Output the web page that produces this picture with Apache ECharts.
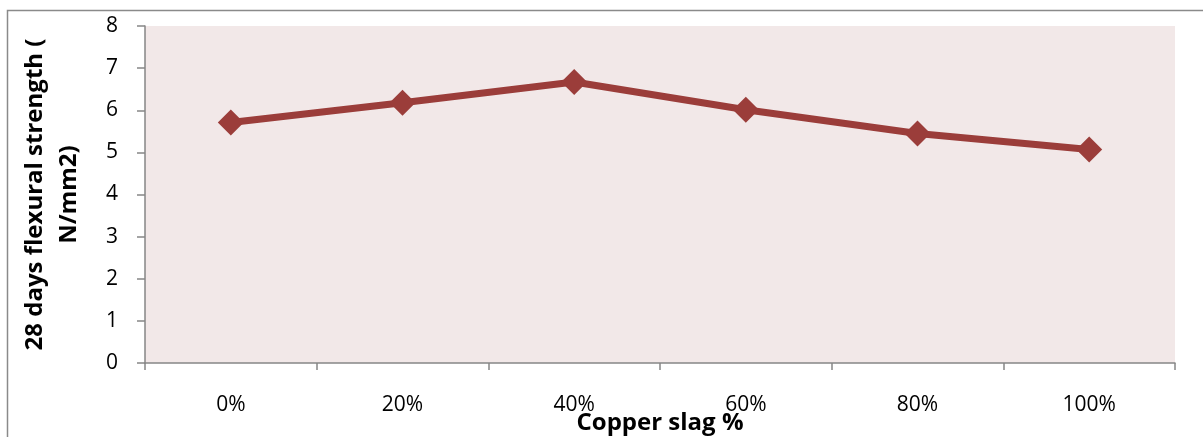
<!DOCTYPE html>
<html>
<head>
<meta charset="utf-8">
<script src="https://cdn.jsdelivr.net/npm/echarts@6/dist/echarts.min.js"></script>
<style>
  html, body { margin: 0; padding: 0; background: #fff; }
  #main { width: 1203px; height: 437px; }
</style>
</head>
<body>
<div id="main"></div>
<script>
// copper slag replacement levels
var slagLevels = ["0%", "20%", "40%", "60%", "80%", "100%"];
// 28 days flexural strength (N/mm2)
var flexural28 = [5.71, 6.18, 6.67, 6.01, 5.45, 5.07];

var chartDom = document.getElementById("main");
var myChart = echarts.init(chartDom);
var font = "'Open Sans', sans-serif";

var option = {
  animation: false,
  textStyle: { fontFamily: font },
  graphic: [
    {
      type: "rect",
      shape: { x: 7.5, y: 10.5, width: 1300, height: 500 },
      style: { fill: "none", stroke: "#8a8a8a", lineWidth: 1.5 },
      z: 0
    }
  ],
  grid: {
    left: 145,
    right: 28,
    top: 26,
    bottom: 74,
    outerBoundsMode: "none",
    containLabel: false,
    show: true,
    backgroundColor: "#f2e8e8",
    borderWidth: 0
  },
  xAxis: {
    type: "category",
    data: slagLevels,
    boundaryGap: true,
    name: "Copper slag %",
    nameLocation: "middle",
    nameGap: 48,
    nameMoveOverlap: false,
    nameTextStyle: { fontSize: 24, fontWeight: "bold", color: "#000", fontFamily: font },
    axisLine: { lineStyle: { color: "#868686", width: 1.5 } },
    axisTick: { show: true, length: 7, lineStyle: { color: "#868686", width: 1.5 } },
    axisLabel: { fontSize: 21, color: "#000", margin: 32, fontFamily: font },
    splitLine: { show: false }
  },
  yAxis: {
    type: "value",
    min: 0,
    max: 8,
    interval: 1,
    name: "28 days flexural strength (\nN/mm2)",
    nameLocation: "middle",
    nameRotate: 90,
    nameGap: 59,
    nameMoveOverlap: false,
    nameTextStyle: { fontSize: 24, fontWeight: "bold", color: "#000", lineHeight: 34, align: "center", fontFamily: font },
    axisLine: { show: true, lineStyle: { color: "#868686", width: 1.5 } },
    axisTick: { show: true, length: 8, lineStyle: { color: "#868686", width: 1.5 } },
    axisLabel: { fontSize: 21, color: "#000", margin: 27, fontFamily: font },
    splitLine: { show: false }
  },
  series: [
    {
      name: "28 days",
      type: "line",
      data: flexural28,
      symbol: "diamond",
      symbolSize: 26,
      itemStyle: { color: "#9b3d3a" },
      lineStyle: { color: "#9b3d3a", width: 7 }
    }
  ]
};

if (option && typeof option === "object") {
  myChart.setOption(option);
}
</script>
</body>
</html>
